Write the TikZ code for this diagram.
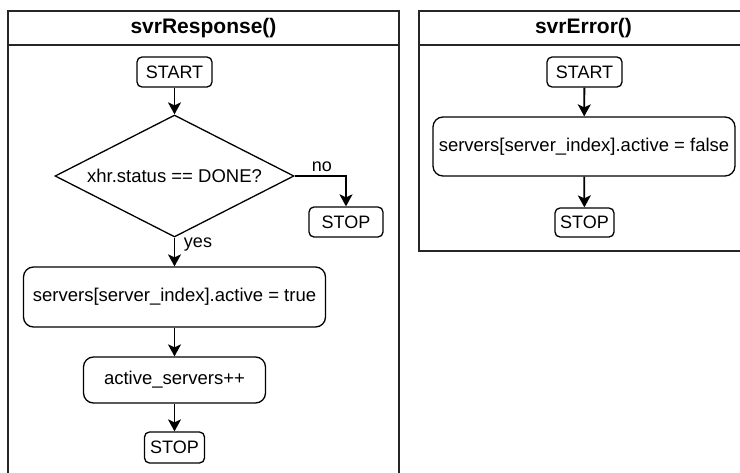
\documentclass[tikz,border=0pt]{standalone}
\usepackage{fontspec}
\setmainfont{Liberation Sans}
\usetikzlibrary{shapes.geometric,arrows.meta}
\begin{document}
\begin{tikzpicture}[x=1pt,y=-1pt,
  every node/.style={inner sep=0pt},
  frame/.style={draw=black!85,line width=1.5pt},
  ttl/.style={font=\fontsize{21}{24}\selectfont\bfseries},
  term/.style={draw,line width=1.3pt,rounded corners=5pt,font=\fontsize{18}{21}\selectfont},
  proc/.style={draw,line width=1.3pt,rounded corners=10pt,font=\fontsize{18.5}{22}\selectfont},
  dec/.style={draw,line width=1.3pt,diamond,aspect=2,font=\fontsize{18.5}{22}\selectfont},
  lbl/.style={font=\fontsize{18}{21}\selectfont},
  arr/.style={line width=1.8pt,-{Stealth[length=12pt,width=13pt,inset=3pt]}}]
\useasboundingbox (0,0) rectangle (740,472);
% left container
\draw[frame] (8,480) -- (8,11) -- (399,11) -- (399,480);
\draw[frame] (8,45) -- (399,45);
\node[ttl] (t1) at (203.5,28.5) {svrResponse()};
\node[term,minimum width=75pt,minimum height=30pt] (s1) at (174.5,72) {START};
\node[dec,minimum width=239pt,minimum height=122pt] (d1) at (174.5,176) {xhr.status == DONE?};
\node[term,minimum width=74pt,minimum height=30pt] (p1) at (346,222) {STOP};
\node[proc,minimum width=302pt,minimum height=60pt] (b1) at (174.5,297) {servers[server\_index].active = true};
\node[proc,minimum width=182pt,minimum height=46pt] (b2) at (174.5,380) {active\_servers++};
\node[term,minimum width=60pt,minimum height=31pt] (p2) at (174.5,447.5) {STOP};
\node[lbl] (no) at (322,167) {no};
\node[lbl] (yes) at (198,245) {yes};
\draw[arr] (s1) -- (d1);
\draw[arr] (d1.east) -| (p1.north);
\draw[arr] (d1.south) -- (b1.north);
\draw[arr] (b1) -- (b2);
\draw[arr] (b2) -- (p2);
% right container
\draw[frame] (419,11) rectangle (750,251);
\draw[frame] (419,45) -- (750,45);
\node[ttl] (t2) at (583.5,28.5) {svrError()};
\node[term,minimum width=75pt,minimum height=30pt] (s2) at (584.5,72) {START};
\node[proc,minimum width=302pt,minimum height=59pt] (b3) at (584,146.5) {servers[server\_index].active = false};
\node[term,minimum width=59pt,minimum height=29pt] (p3) at (584.5,222.5) {STOP};
\draw[arr] (s2) -- (b3);
\draw[arr] (b3) -- (p3);
\end{tikzpicture}
\end{document}
